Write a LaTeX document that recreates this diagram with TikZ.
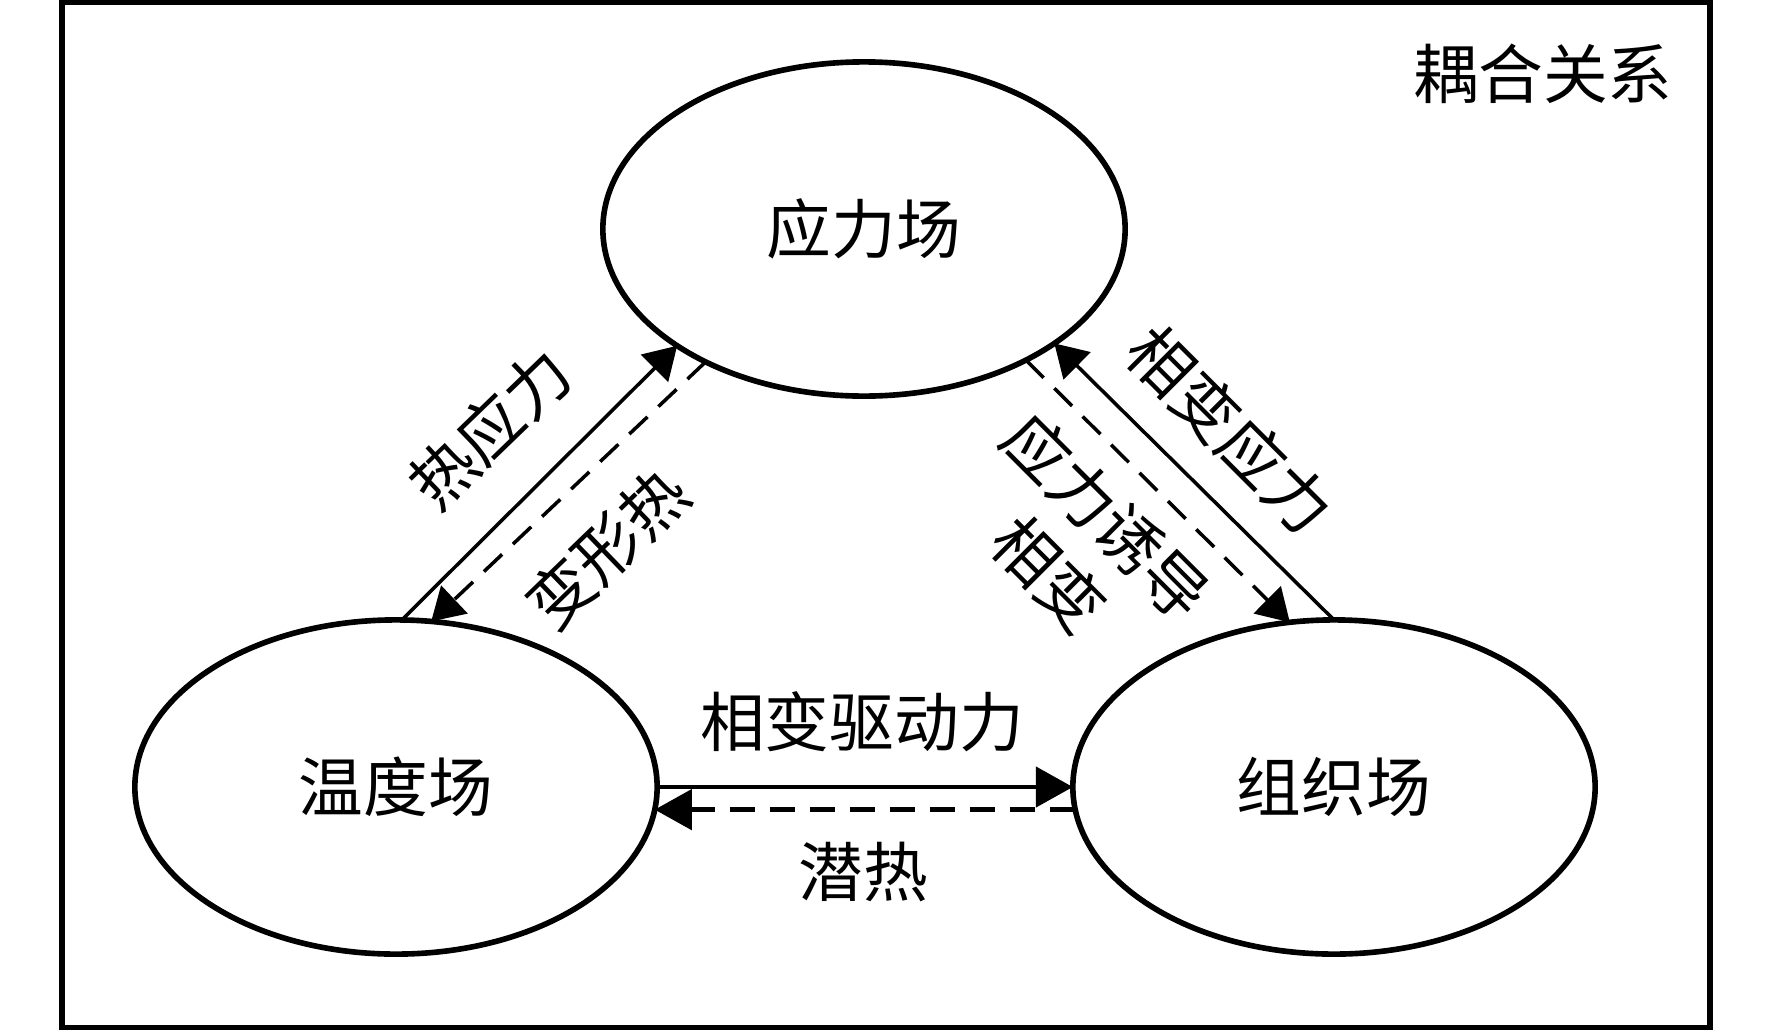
\documentclass[tikz,border=0pt]{standalone}
\usepackage{fontspec}
\newfontfamily\cjk{Noto Sans CJK SC}
\usetikzlibrary{arrows.meta,shapes.geometric}

\begin{document}
\begin{tikzpicture}
		[x=0.01cm,y=-0.01cm,line cap=butt,
		%Styles
		field node/.style={ellipse,draw,line width=1.6pt,minimum width=5.22cm,minimum height=3.34cm,
			inner sep=0pt,outer sep=0pt,font=\cjk\fontsize{18.4pt}{22pt}\selectfont},
		info text/.style={inner sep=0pt,font=\cjk\fontsize{18.4pt}{23pt}\selectfont},
		heavy line/.style={line width=1.3pt,-{Triangle[length=3.7mm,width=4mm]}},
		light line/.style={line width=1pt,-{Triangle[length=3.2mm,width=3.8mm]}},
		heat line/.style={dash pattern=on 2.5mm off 1.5mm}
		]
		
		%The frame
		\useasboundingbox (0,0) rectangle (1772,1030);
		\draw[line width=1.6pt] (62,2.5) rectangle (1710,1027.5);
		\node[info text] (title) at (1543,74) {耦合关系};
		
		%The fields
		\node[field node] (stress) at (864,229) {应力场};
		\node[field node] (temp) at (396,787) {温度场};
		\node[field node] (micro) at (1334,787) {组织场};
		
		%Couplings
		\draw[light line] (temp.88) -- (stress.212);
		\draw[light line,heat line] (stress.220) -- (temp.78);
		\draw[light line] (micro.90) -- (stress.329);
		\draw[light line,heat line] (stress.321) -- (micro.105);
		\draw[heavy line] (temp.0) -- (micro.180);
		\draw[heavy line,heat line] (micro.185.7) -- (temp.-5.7);
		
		\node[info text,rotate=44] (thermal) at (490,428) {热应力};
		\node[info text,rotate=44] (deform) at (607,548) {变形热};
		\node[info text,rotate=-45] (transstress) at (1230,430) {相变应力};
		\node[info text,rotate=-45,align=center] (induced) at (1078,545) {应力诱导\\相变};
		\node[info text] (drive) at (862,722) {相变驱动力};
		\node[info text] (latent) at (863,872) {潜热};
	\end{tikzpicture}
\end{document}
